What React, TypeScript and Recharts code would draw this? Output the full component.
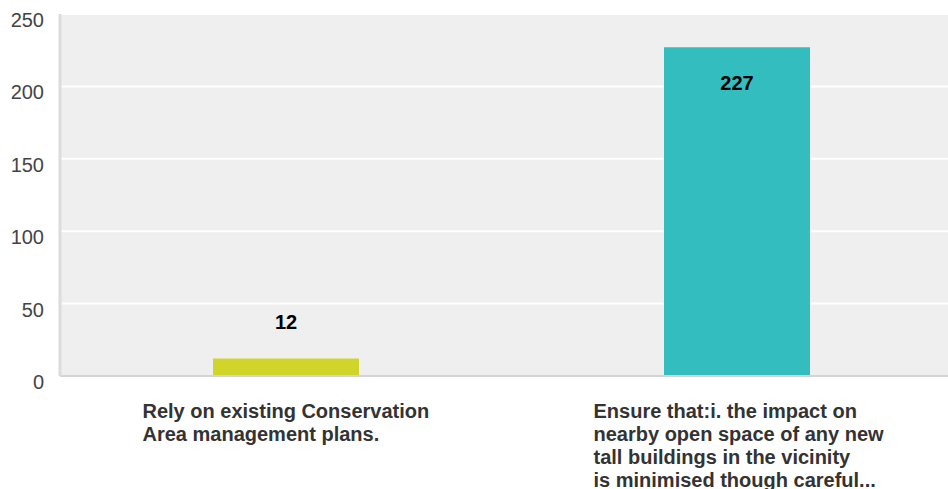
import { Bar, BarChart, CartesianGrid, Cell, LabelList, XAxis, YAxis } from 'recharts';

const answers = [
    "Rely on existing Conservation Area management plans.",
    "Ensure that:i. the impact on nearby open space of any new tall buildings in the vicinity is minimised though careful...",
];
const responses = [12, 227];
const barColors = ["#d1d52a", "#34bdbf"];
const yTicks = [0, 50, 100, 150, 200, 250];

const data = answers.map((answer, i) => ({ answer, responses: responses[i] }));

const FONT = "Arial, 'Liberation Sans', Helvetica, sans-serif";

// wrap long answers on word boundaries, ~30 chars per line
const wrap = (text: string, max = 30) => {
    const lines: string[] = [];
    let cur = "";
    text.split(" ").forEach(w => {
        if (cur && (cur + " " + w).length > max) {
            lines.push(cur);
            cur = w;
        } else {
            cur = cur ? cur + " " + w : w;
        }
    });
    if (cur) lines.push(cur);
    return lines;
};

const AnswerTick = (props: any) => {
    const { x, y, payload } = props;
    const lines = wrap(payload.value);
    return (
        <text x={x - 143} y={y + 34} fill="#333" fontFamily={FONT} fontSize={20} fontWeight="bold" textAnchor="start">
            {lines.map((l, i) => (
                <tspan key={i} x={x - 143} dy={i === 0 ? 0 : 23}>{l}</tspan>
            ))}
        </text>
    );
};

const CountTick = (props: any) => {
    const { x, y, payload } = props;
    return (
        <text x={x - 8} y={y + 13} fill="#444" fontFamily={FONT} fontSize={20} textAnchor="end">
            {payload.value}
        </text>
    );
};

const ValueLabel = (props: any) => {
    const { x, y, width, height, value } = props;
    // short bars get the number above, tall ones inside
    const cy = height < 60 ? y - 37 : y + 36;
    return (
        <text x={x + width / 2} y={cy + 7} fill="#000" fontFamily={FONT} fontSize={20} fontWeight="bold" textAnchor="middle">
            {value}
        </text>
    );
};

const App = () => {
    return (
        <div style={{ position: "absolute", left: 0, top: 0, width: 948, height: 489, overflow: "hidden", background: "#fff" }}>
            <BarChart
                width={962}
                height={489}
                data={data}
                margin={{ top: 14, right: 0, left: 0, bottom: 0 }}
            >
                <CartesianGrid vertical={false} stroke="#ffffff" strokeWidth={2} fill="#efefef" />
                <XAxis
                    dataKey="answer"
                    height={113}
                    tickLine={false}
                    axisLine={{ stroke: "#d4d4d4", strokeWidth: 2 }}
                    tick={<AnswerTick />}
                    interval={0}
                />
                <YAxis
                    width={60}
                    domain={[0, 250]}
                    ticks={yTicks}
                    tickLine={false}
                    axisLine={{ stroke: "#dcdcdc", strokeWidth: 3 }}
                    tick={<CountTick />}
                />
                <Bar dataKey="responses" barSize={146} isAnimationActive={false}>
                    {data.map((d, i) => (
                        <Cell key={d.answer} fill={barColors[i]} />
                    ))}
                    <LabelList dataKey="responses" content={<ValueLabel />} />
                </Bar>
            </BarChart>
        </div>
    );
};

export default App;
